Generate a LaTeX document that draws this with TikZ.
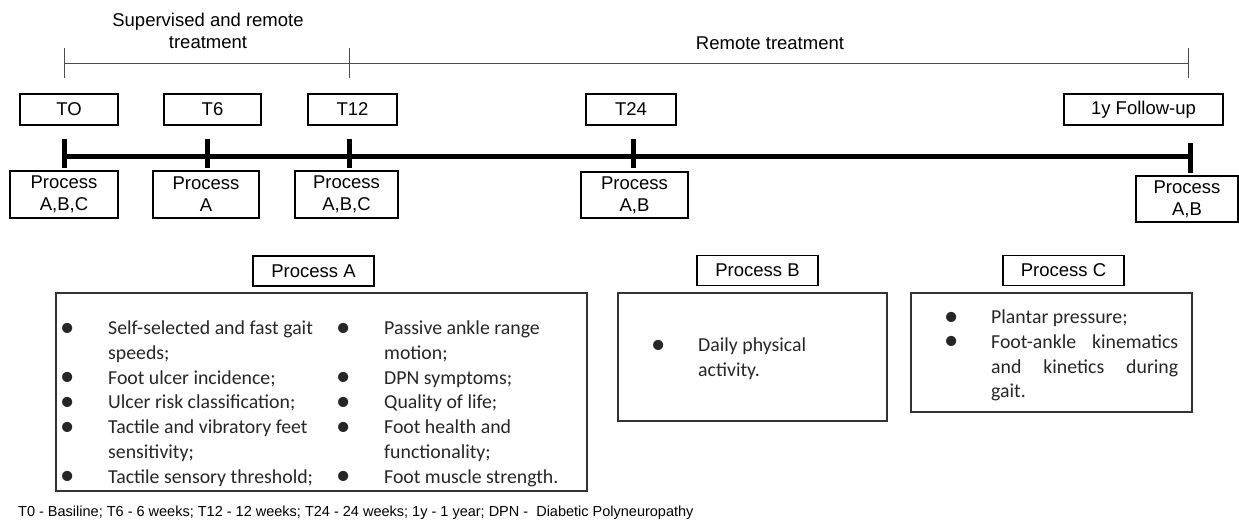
\documentclass[tikz,border=0pt]{standalone}
\usepackage{fontspec}
\setmainfont{Carlito}
\newfontfamily\arialfont{Liberation Sans}
\usetikzlibrary{positioning}
\newcommand{\blt}[1]{\makebox[#1][l]{\makebox[0pt]{\raisebox{-0.08em}{\scalebox{1.45}{\textbullet}}}}}
\tikzset{
  lbl/.style     ={font=\arialfont\fontsize{18.5}{22}\selectfont, align=center},
  tbox/.style    ={draw, line width=1.2pt, inner sep=0pt, minimum height=31pt, lbl},
  pbox/.style    ={draw, line width=1.2pt, inner sep=0pt, minimum height=47pt, lbl},
  hbox/.style    ={draw, line width=1.2pt, inner sep=0pt, minimum width=121pt, minimum height=30pt, lbl},
  listbox/.style ={draw=black!80, line width=1.4pt, inner sep=0pt},
  items/.style   ={anchor=base west, inner sep=0pt, font=\fontsize{19.8}{24.8}\selectfont, text=black!85},
  phase/.style   ={draw=black!70, line width=0.9pt},
  mainline/.style={line width=5pt},
  note/.style    ={font=\arialfont\fontsize{14.5}{17}\selectfont, anchor=west, inner sep=0pt},
}
\begin{document}
\begin{tikzpicture}[x=1pt,y=-1pt]
  \useasboundingbox (0,0) rectangle (1239,523);
  % treatment phases
  \coordinate (s0) at (64,63);
  \coordinate (s12) at (349,63);
  \coordinate (s1y) at (1188,63);
  \draw[phase] (s0) -- (s1y);
  \foreach \c in {s0,s12,s1y}
    \draw[phase] ([yshift=15pt]\c) -- ([yshift=-15pt]\c);
  \node[lbl] (sup) at (208,31) {Supervised and remote\\treatment};
  \node[lbl] (rem) at (770,43) {Remote treatment};
  % time points
  \node[tbox, minimum width=98pt] (t0) at (69,109.5) {TO};
  \node[tbox, minimum width=97pt] (t6) at (212.5,109.5) {T6};
  \node[tbox, minimum width=89pt] (t12) at (352.5,109.5) {T12};
  \node[tbox, minimum width=90pt] (t24) at (631,109.5) {T24};
  \node[tbox, minimum width=159pt] (t1y) at (1143.5,109.5) {1y Follow-up};
  % timeline
  \coordinate (m0) at (64,156);
  \coordinate (m6) at (207,156);
  \coordinate (m12) at (349,156);
  \coordinate (m24) at (633,156);
  \coordinate (m1y) at (1190,156);
  \draw[mainline] (m0) -- (m1y);
  \foreach \c in {m0,m6,m12,m24}
    \draw[mainline] ([yshift=17pt]\c) -- ([yshift=-12pt]\c);
  \draw[mainline] ([yshift=13pt]m1y) -- ([yshift=-17pt]m1y);
  % processes per time point
  \node[pbox, minimum width=108pt] (p0) at (64,194.5) {Process\\A,B,C};
  \node[pbox, minimum width=106pt] (p6) at (206,194.5) {Process\\A};
  \node[pbox, minimum width=103pt] (p12) at (346.5,194.5) {Process\\A,B,C};
  \node[pbox, minimum width=107pt, minimum height=46pt] (p24) at (634.5,195) {Process\\A,B};
  \node[pbox, minimum width=102pt, minimum height=46pt] (p1y) at (1187,199) {Process\\A,B};
  % process A
  \node[hbox] (hA) at (313.5,271) {Process A};
  \node[listbox, minimum width=531pt, minimum height=198pt] (boxA) at (321.5,392) {};
  \node[items] (listA1) at (67,334.5) {\begin{tabular}[t]{@{}l@{}l@{}}
    \blt{41pt} & Self-selected and fast gait\\
               & speeds;\\
    \blt{41pt} & Foot ulcer incidence;\\
    \blt{41pt} & Ulcer risk classification;\\
    \blt{41pt} & Tactile and vibratory feet\\
               & sensitivity;\\
    \blt{41pt} & Tactile sensory threshold;
  \end{tabular}};
  \node[items] (listA2) at (343,334.5) {\begin{tabular}[t]{@{}l@{}l@{}}
    \blt{41pt} & Passive ankle range\\
               & motion;\\
    \blt{41pt} & DPN symptoms;\\
    \blt{41pt} & Quality of life;\\
    \blt{41pt} & Foot health and\\
               & functionality;\\
    \blt{41pt} & Foot muscle strength.
  \end{tabular}};
  % process B
  \node[hbox] (hB) at (757.5,270.5) {Process B};
  \node[listbox, minimum width=269pt, minimum height=128pt] (boxB) at (752.5,357) {};
  \node[items] (listB) at (658,351.5) {\begin{tabular}[t]{@{}l@{}l@{}}
    \blt{40pt} & Daily physical\\
               & activity.
  \end{tabular}};
  % process C
  \node[hbox] (hC) at (1063.5,270.5) {Process C};
  \node[listbox, minimum width=281pt, minimum height=119pt] (boxC) at (1051.5,352.5) {};
  \node[items] (listC) at (951,323.5) {\begin{tabular}[t]{@{}l@{}l@{}}
    \blt{40pt} & Plantar pressure;\\
    \blt{40pt} & \makebox[187pt][s]{Foot-ankle kinematics}\\
               & \makebox[187pt][s]{and kinetics during}\\
               & gait.
  \end{tabular}};
  % abbreviations
  \node[note] (fn) at (18,513) {T0 - Basiline; T6 - 6 weeks; T12 - 12 weeks; T24 - 24 weeks; 1y - 1 year; DPN -\ \ Diabetic Polyneuropathy};
\end{tikzpicture}
\end{document}
